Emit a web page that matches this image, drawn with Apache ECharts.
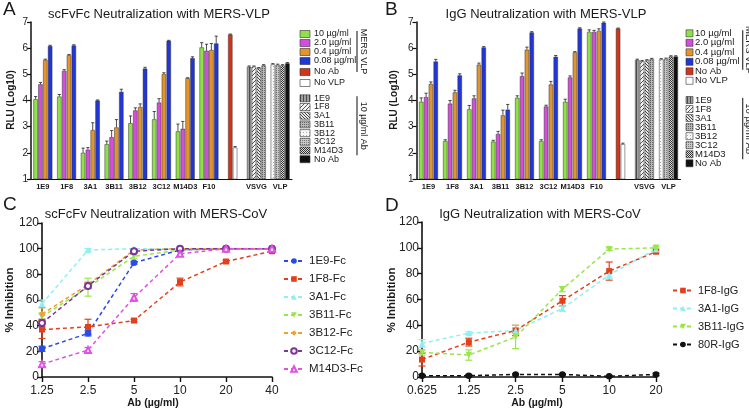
<!DOCTYPE html>
<html>
<head>
<meta charset="utf-8">
<script src="https://cdn.jsdelivr.net/npm/echarts@6/dist/echarts.min.js"></script>
<style>
  html, body { margin: 0; padding: 0; background: #fff; }
  #main { width: 749px; height: 409px; }
</style>
</head>
<body>
<div id="main"></div>
<script>
  // ---- data: panels A / B (RLU, log10) ----
  const abNames = ['1E9', '1F8', '3A1', '3B11', '3B12', '3C12', 'M14D3', 'F10'];
  const vlpAxis = [...abNames, '', 'VSVG', 'VLP'];
  const concNames = ['10 µg/ml', '2.0 µg/ml', '0.4 µg/ml', '0.08 µg/ml'];
  const ctrlNames = ['1E9', '1F8', '3A1', '3B11', '3B12', '3C12', 'M14D3', 'No Ab'];

  const aConc10 = [4.05, 4.15, 2.0, 2.33, 3.13, 3.28, 2.82, 6.03];
  const aConc2 = [4.62, 5.13, 2.12, 2.6, 3.62, 3.92, 2.92, 5.9];
  const aConc04 = [5.55, 5.73, 2.87, 2.97, 3.75, 5.01, 4.85, 5.93];
  const aConc008 = [6.08, 6.1, 4.0, 4.33, 5.22, 6.28, 5.62, 6.18];
  const aErr10 = [0.1, 0.08, 0.18, 0.12, 0.28, 0.3, 0.28, 0.18];
  const aErr2 = [0.07, 0.05, 0.08, 0.25, 0.1, 0.15, 0.28, 0.25];
  const aErr04 = [0.03, 0.03, 0.28, 0.3, 0.12, 0.05, 0.02, 0.25];
  const aErr008 = [0.03, 0.03, 0.02, 0.1, 0.05, 0.02, 0.05, 0.28];
  const aNoAb = 6.52, aNoVLP = 2.2;
  const aVSVG = [5.29, 5.29, 5.23, 5.34];
  const aVLP = [5.38, 5.36, 5.34, 5.42];

  const bConc10 = [3.95, 2.45, 3.66, 2.43, 4.1, 2.45, 3.95, 6.62];
  const bConc2 = [4.13, 3.88, 4.08, 2.72, 4.93, 3.77, 4.88, 6.62];
  const bConc04 = [4.63, 4.31, 5.37, 3.43, 5.94, 4.61, 5.84, 6.66];
  const bConc008 = [5.49, 4.96, 6.03, 3.65, 6.6, 5.67, 6.75, 6.97];
  const bErr10 = [0.15, 0.05, 0.15, 0.05, 0.08, 0.05, 0.1, 0.08];
  const bErr2 = [0.15, 0.12, 0.1, 0.1, 0.12, 0.05, 0.06, 0.06];
  const bErr04 = [0.08, 0.08, 0.06, 0.2, 0.1, 0.12, 0.03, 0.08];
  const bErr008 = [0.08, 0.06, 0.03, 0.2, 0.03, 0.05, 0.03, 0.03];
  const bNoAb = 6.75, bNoVLP = 2.33;
  const bVSVG = [5.55, 5.5, 5.53, 5.58];
  const bVLP = [5.57, 5.59, 5.68, 5.68];

  // ---- data: panels C / D (% inhibition) ----
  const cDoses = ['1.25', '2.5', '5', '10', '20', '40'];
  const cNames = ['1E9-Fc', '1F8-Fc', '3A1-Fc', '3B11-Fc', '3B12-Fc', '3C12-Fc', 'M14D3-Fc'];
  const c1E9 = [22, 34, 89, 99, 100, 100];
  const c1F8 = [37, 39, 44, 74, 90, 98];
  const c3A1 = [57, 99, 100, 100, 100, 100];
  const c3B11 = [47, 70, 94, 99, 100, 100];
  const c3B12 = [49, 72, 99, 100, 100, 100];
  const c3C12 = [42, 71, 98, 100, 100, 100];
  const cM14D3 = [10, 21, 62, 96, 100, 100];
  const c1E9Err = [2, 2, 1, 0, 0, 0];
  const c1F8Err = [7, 6, 1, 3, 1, 1];
  const c3A1Err = [3, 1, 0, 0, 0, 0];
  const c3B11Err = [3, 7, 2, 1, 0, 0];
  const c3B12Err = [5, 2, 1, 0, 0, 0];
  const c3C12Err = [3, 2, 1, 0, 0, 0];
  const cM14D3Err = [2, 2, 3, 2, 0, 0];

  const dDoses = ['0.625', '1.25', '2.5', '5', '10', '20'];
  const dNames = ['1F8-IgG', '3A1-IgG', '3B11-IgG', '80R-IgG'];
  const d1F8 = [13.5, 27, 36, 59, 82, 97];
  const d3A1 = [26, 34, 36, 53, 79, 99];
  const d3B11 = [19, 17, 31, 68, 99, 100];
  const d80R = [1, 1, 2, 2, 0.5, 2];
  const d1F8Err = [5, 3, 4, 4, 7, 1];
  const d3A1Err = [3, 1, 2, 2, 3, 1];
  const d3B11Err = [2, 4, 9, 2, 1, 1];
  const d80RErr = [1, 1, 0.5, 0.5, 0.5, 1];

  // ---- styles ----
  const FONT = 'Liberation Sans, Arial, sans-serif';
  const concColors = ['#8fe04a', '#d44ddc', '#e4942c', '#2136d6'];
  const noAbColor = '#d2351b';
  const cColors = ['#2b4be6', '#e2401c', '#8ff0f4', '#99e64a', '#f0a035', '#7b3697', '#e052e6'];
  const cSymbols = ['circle', 'rect', 'triangle', 'triangle', 'diamond', 'emptyCircle', 'emptyTriangle'];
  const cRotate = [0, 0, 0, 180, 0, 0, 0];
  const dColors = ['#e2401c', '#8ff0f4', '#99e64a', '#111'];
  const dSymbols = ['rect', 'triangle', 'triangle', 'circle'];
  const dRotate = [0, 0, 180, 0];

  const pat = (size, bg, fg, cells) => {
    const c = document.createElement('canvas');
    c.width = size; c.height = size;
    const g = c.getContext('2d');
    g.fillStyle = bg; g.fillRect(0, 0, size, size);
    g.fillStyle = fg;
    cells.forEach(([x, y, w, h]) => g.fillRect(x, y, w || 1, h || 1));
    return { image: c, repeat: 'repeat' };
  };
  const pats = [
    pat(3, '#a0a0a0', '#4a4a4a', [[0, 0, 1, 3]]),
    pat(4, '#f4f4f4', '#555', [[3, 0], [2, 1], [1, 2], [0, 3]]),
    pat(3, '#e8e8e8', '#444', [[0, 0], [1, 1], [2, 2]]),
    pat(2, '#b8b8b8', '#666', [[0, 0]]),
    pat(3, '#f6f6f6', '#b0b0b0', [[0, 0]]),
    pat(2, '#c8c8c8', '#7a7a7a', [[0, 0]]),
    pat(2, '#dcdcdc', '#333', [[0, 0], [1, 1]]),
    '#111'
  ];

  const BAR_W = 4.4, BAR_STEP = 4.84;

  // four "slot" series per panel: slot k = k-th bar within each group
  const vlpBars = (gi, conc, noAb, noVlp, vsvg, vlp) => {
    const out = [];
    for (let k = 0; k < 4; k++) {
      const data = conc[k].map(v => ({ value: v, itemStyle: { color: concColors[k] } }));
      if (k === 1) data.push({ value: noAb, itemStyle: { color: noAbColor } });
      else if (k === 2) data.push({ value: noVlp, itemStyle: { color: '#fff' } });
      else data.push('-');
      data.push({ value: vsvg[k], itemStyle: { color: pats[k] } });
      data.push({ value: vlp[k], itemStyle: { color: pats[k + 4] } });
      out.push({
        type: 'bar', xAxisIndex: gi, yAxisIndex: gi, barWidth: BAR_W, barGap: '10%',
        silent: true, data,
        itemStyle: { borderColor: '#333', borderWidth: 0.5 }
      });
    }
    return out;
  };

  const vlpErrors = (gi, conc, errs, noAb, noVlp, vsvg, vlp) => {
    const data = [];
    for (let k = 0; k < 4; k++) {
      conc[k].forEach((v, i) => data.push([i, k, v, errs[k][i]]));
      data.push([9, k, vsvg[k], 0.03]);
      data.push([10, k, vlp[k], 0.03]);
    }
    data.push([8, 1, noAb, 0.02]);
    data.push([8, 2, noVlp, 0.04]);
    return {
      type: 'custom', xAxisIndex: gi, yAxisIndex: gi, silent: true, z: 5,
      encode: { x: 0, y: 2 }, data,
      renderItem: (params, api) => {
        const b = api.coord([api.value(0), api.value(2)]);
        const t = api.coord([api.value(0), api.value(2) + api.value(3)]);
        const x = b[0] + (api.value(1) - 1.5) * BAR_STEP;
        const st = { stroke: '#222', lineWidth: 0.8 };
        return {
          type: 'group', children: [
            { type: 'line', shape: { x1: x, y1: b[1], x2: x, y2: t[1] }, style: st },
            { type: 'line', shape: { x1: x - 1.6, y1: t[1], x2: x + 1.6, y2: t[1] }, style: st }
          ]
        };
      }
    };
  };

  const doseLine = (gi, name, data, color, symbol, rot) => ({
    type: 'line', name, xAxisIndex: gi, yAxisIndex: gi, data, symbol, symbolRotate: rot,
    symbolSize: symbol === 'rect' ? 6 : symbol.startsWith('empty') ? 6 : 6.5, z: 4, silent: true,
    lineStyle: { type: [4, 3], width: 1.5, color },
    itemStyle: { color, borderColor: color, borderWidth: symbol.startsWith('empty') ? 1.2 : 0 }
  });

  const doseErr = (gi, vals, errs, color) => ({
    type: 'custom', xAxisIndex: gi, yAxisIndex: gi, silent: true, z: 3,
    encode: { x: 0, y: 1 },
    data: vals.map((v, i) => [i, v, errs[i]]).filter(d => d[2] > 0),
    renderItem: (params, api) => {
      const lo = api.coord([api.value(0), api.value(1) - api.value(2)]);
      const hi = api.coord([api.value(0), api.value(1) + api.value(2)]);
      const x = lo[0];
      const st = { stroke: color, lineWidth: 1.2 };
      return {
        type: 'group', children: [
          { type: 'line', shape: { x1: x, y1: lo[1], x2: x, y2: hi[1] }, style: st },
          { type: 'line', shape: { x1: x - 3.5, y1: lo[1], x2: x + 3.5, y2: lo[1] }, style: st },
          { type: 'line', shape: { x1: x - 3.5, y1: hi[1], x2: x + 3.5, y2: hi[1] }, style: st }
        ]
      };
    }
  });

  // ---- axes ----
  const catAxisVLP = gi => ({
    type: 'category', gridIndex: gi, data: vlpAxis,
    axisLine: { lineStyle: { color: '#111', width: 1.2 } },
    axisTick: { alignWithLabel: true, length: 3, lineStyle: { color: '#111' } },
    axisLabel: { interval: 0, fontSize: 7.5, fontWeight: 'bold', color: '#1a1a1a', margin: 4, fontFamily: FONT }
  });
  const rluAxis = gi => ({
    type: 'value', gridIndex: gi, min: 1, max: 7, interval: 1,
    axisLine: { show: true, lineStyle: { color: '#111', width: 1.5 } },
    axisTick: { show: true, length: 4, lineStyle: { color: '#111', width: 1.2 } },
    axisLabel: { fontSize: 10, color: '#222', margin: 3, fontFamily: FONT },
    splitLine: { show: false }
  });
  const doseAxis = (gi, data) => ({
    type: 'category', gridIndex: gi, data, boundaryGap: false,
    axisLine: { lineStyle: { color: '#111', width: 1.6 } },
    axisTick: { length: 5, lineStyle: { color: '#111', width: 1.4 } },
    axisLabel: { interval: 0, fontSize: 12, color: '#222', margin: 8, fontFamily: FONT }
  });
  const pctAxis = gi => ({
    type: 'value', gridIndex: gi, min: 0, max: 120, interval: 20,
    axisLine: { show: true, lineStyle: { color: '#111', width: 1.6 } },
    axisTick: { show: true, length: 5, lineStyle: { color: '#111', width: 1.4 } },
    axisLabel: { fontSize: 12, color: '#222', margin: 3, fontFamily: FONT },
    splitLine: { show: false }
  });

  // ---- text and hand-drawn legends ----
  const txt = (x, y, text, size, o = {}) => ({
    type: 'text', x, y, rotation: o.rot || 0, silent: true,
    style: {
      text, fontSize: size, fontFamily: FONT, fontWeight: o.bold ? 'bold' : 'normal',
      fill: o.color || '#1a1a1a', align: o.align || 'center', textAlign: o.align || 'center',
      verticalAlign: 'middle', textVerticalAlign: 'middle'
    }
  });
  const line = (x1, y1, x2, y2, w) => ({
    type: 'line', silent: true, shape: { x1, y1, x2, y2 }, style: { stroke: '#333', lineWidth: w || 1 }
  });

  const vlpLegend = (boxX, boxW, boxH, textX, fs, topYs, botYs, brX) => {
    const els = [];
    const fills = [...concColors, noAbColor, '#fff'];
    const names = [...concNames, 'No Ab', 'No VLP'];
    names.forEach((n, i) => {
      els.push({ type: 'rect', silent: true, shape: { x: boxX, y: topYs[i] - boxH / 2, width: boxW, height: boxH },
        style: { fill: fills[i], stroke: '#333', lineWidth: 0.6 } });
      els.push(txt(textX, topYs[i], n, fs, { align: 'left' }));
    });
    ctrlNames.forEach((n, i) => {
      els.push({ type: 'rect', silent: true, shape: { x: boxX, y: botYs[i] - boxH / 2, width: boxW, height: boxH },
        style: { fill: pats[i], stroke: '#333', lineWidth: 0.6 } });
      els.push(txt(textX, botYs[i], n, fs, { align: 'left' }));
    });
    els.push(line(brX, topYs[0] - 3, brX, topYs[5] - 11, 1.2));
    els.push(txt(brX + 6, (topYs[0] + topYs[5] - 14) / 2, 'MERS VLP', fs, { rot: -Math.PI / 2 }));
    els.push(line(brX, botYs[0] - 2, brX, botYs[7] - 4, 1.2));
    els.push(txt(brX + 6, (botYs[0] + botYs[7] - 6) / 2, '10 µg/ml Ab', fs, { rot: -Math.PI / 2 }));
    return els;
  };
  const seq = (a, step, n) => Array.from({ length: n }, (_, i) => a + step * i);

  const graphic = [
    txt(3, 10, 'A', 19, { align: 'left' }),
    txt(385, 10, 'B', 19, { align: 'left' }),
    txt(3, 205, 'C', 19, { align: 'left' }),
    txt(385, 206, 'D', 19, { align: 'left' }),
    txt(159, 14.5, 'scFvFc Neutralization with MERS-VLP', 13),
    txt(546, 14, 'IgG Neutralization with MERS-VLP', 13),
    txt(156, 214.5, 'scFcFv Neutralization with MERS-CoV', 13),
    txt(540, 214.5, 'IgG Neutralization with MERS-CoV', 13),
    txt(11, 100, 'RLU (Log10)', 10, { bold: true, rot: Math.PI / 2 }),
    txt(394, 100, 'RLU (Log10)', 10, { bold: true, rot: Math.PI / 2 }),
    txt(10, 300, '% Inhibition', 11.5, { bold: true, rot: Math.PI / 2 }),
    txt(392, 300, '% Inhibition', 11.5, { bold: true, rot: Math.PI / 2 }),
    txt(153, 403, 'Ab (µg/ml)', 10.5, { bold: true }),
    txt(537, 403, 'Ab (µg/ml)', 10.5, { bold: true }),
    ...vlpLegend(300, 10, 7, 314, 9, [34, 43, 52, 61, 72, 83], seq(98.3, 8.7, 8), 357),
    ...vlpLegend(686, 7, 7, 695, 9.5, seq(33.3, 9.5, 6), seq(100, 9.04, 8), 742.7)
  ];

  const legendBase = {
    orient: 'vertical', padding: 0, selectedMode: false, itemHeight: 7,
    textStyle: { color: '#222', fontFamily: FONT }
  };

  const chart = echarts.init(document.getElementById('main'), null, { renderer: 'canvas' });
  chart.setOption({
    animation: false,
    backgroundColor: '#fff',
    textStyle: { fontFamily: FONT },
    grid: [
      { left: 31, top: 22, width: 261, height: 157, outerBoundsMode: 'none' },
      { left: 416.5, top: 22, width: 264, height: 157, outerBoundsMode: 'none' },
      { left: 42, top: 223, width: 230, height: 154, outerBoundsMode: 'none' },
      { left: 422, top: 222, width: 234, height: 155, outerBoundsMode: 'none' }
    ],
    xAxis: [catAxisVLP(0), catAxisVLP(1), doseAxis(2, cDoses), doseAxis(3, dDoses)],
    yAxis: [rluAxis(0), rluAxis(1), pctAxis(2), pctAxis(3)],
    legend: [
      { ...legendBase, data: cNames, left: 283, top: 255, itemWidth: 20, itemGap: 6,
        textStyle: { ...legendBase.textStyle, fontSize: 11.5 } },
      { ...legendBase, data: dNames, left: 672, top: 285, itemWidth: 20, itemGap: 7,
        textStyle: { ...legendBase.textStyle, fontSize: 11 } }
    ],
    graphic,
    series: [
      ...vlpBars(0, [aConc10, aConc2, aConc04, aConc008], aNoAb, aNoVLP, aVSVG, aVLP),
      vlpErrors(0, [aConc10, aConc2, aConc04, aConc008], [aErr10, aErr2, aErr04, aErr008], aNoAb, aNoVLP, aVSVG, aVLP),
      ...vlpBars(1, [bConc10, bConc2, bConc04, bConc008], bNoAb, bNoVLP, bVSVG, bVLP),
      vlpErrors(1, [bConc10, bConc2, bConc04, bConc008], [bErr10, bErr2, bErr04, bErr008], bNoAb, bNoVLP, bVSVG, bVLP),
      ...[c1E9, c1F8, c3A1, c3B11, c3B12, c3C12, cM14D3].map((d, i) => doseLine(2, cNames[i], d, cColors[i], cSymbols[i], cRotate[i])),
      ...[[c1E9, c1E9Err], [c1F8, c1F8Err], [c3A1, c3A1Err], [c3B11, c3B11Err], [c3B12, c3B12Err], [c3C12, c3C12Err], [cM14D3, cM14D3Err]]
        .map(([v, e], i) => doseErr(2, v, e, cColors[i])),
      ...[d1F8, d3A1, d3B11, d80R].map((d, i) => doseLine(3, dNames[i], d, dColors[i], dSymbols[i], dRotate[i])),
      ...[[d1F8, d1F8Err], [d3A1, d3A1Err], [d3B11, d3B11Err], [d80R, d80RErr]]
        .map(([v, e], i) => doseErr(3, v, e, dColors[i]))
    ]
  });
</script>
</body>
</html>
